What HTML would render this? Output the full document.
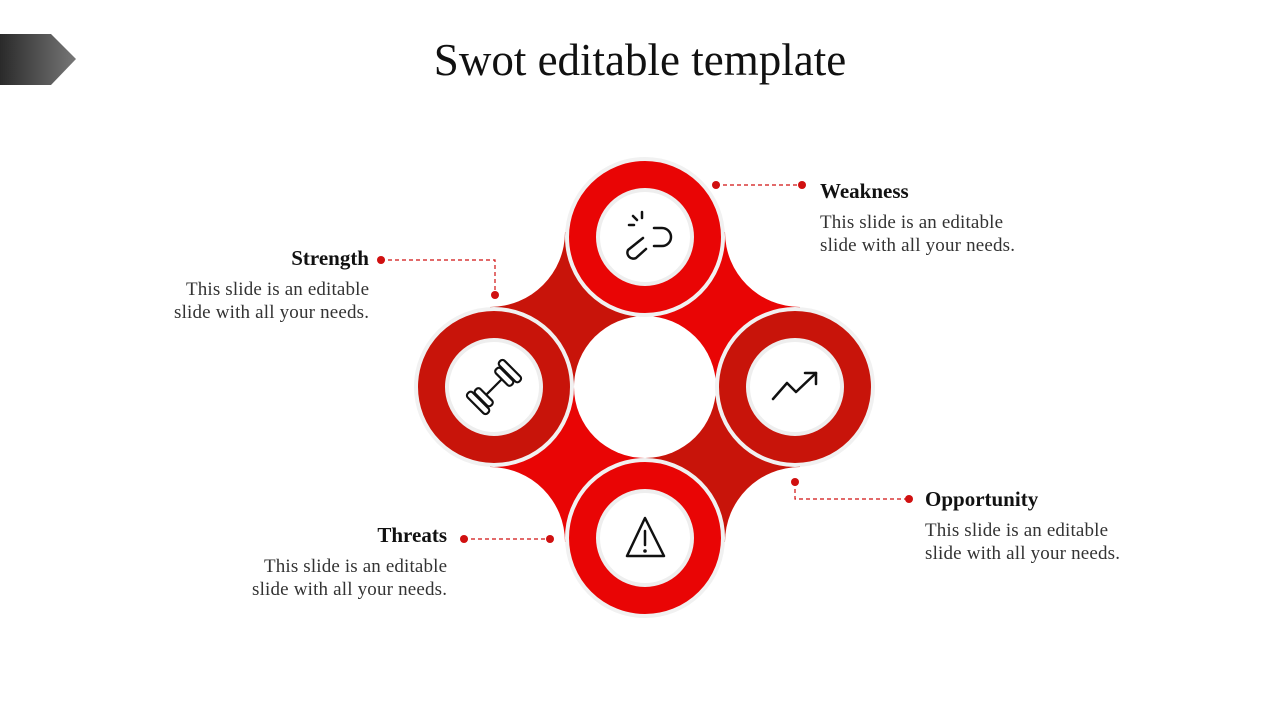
<!DOCTYPE html>
<html><head><meta charset="utf-8"><style>html,body{margin:0;padding:0;background:#fff}svg{display:block}</style></head>
<body>
<svg width="1280" height="720" viewBox="0 0 1280 720" xmlns="http://www.w3.org/2000/svg" font-family="'Liberation Serif', serif">
<defs>
<linearGradient id="g" x1="0" x2="1" y1="0" y2="0"><stop offset="0" stop-color="#2a2a2a"/><stop offset="1" stop-color="#777"/></linearGradient>
</defs>
<polygon points="0,34 51,34 76,59 51,85 0,85" fill="url(#g)"/>
<text x="640" y="75" text-anchor="middle" font-size="45" fill="#111">Swot editable template</text>

<rect x="490" y="232" width="155" height="155" fill="#c8140a"/>
<rect x="645" y="232" width="155" height="155" fill="#e90505"/>
<rect x="490" y="387" width="155" height="155" fill="#e90505"/>
<rect x="645" y="387" width="155" height="155" fill="#c8140a"/>
<circle cx="490" cy="232" r="75" fill="#fff"/>
<circle cx="800" cy="232" r="75" fill="#fff"/>
<circle cx="490" cy="542" r="75" fill="#fff"/>
<circle cx="800" cy="542" r="75" fill="#fff"/>
<circle cx="645" cy="387" r="71" fill="#fff"/>

<g stroke="#f1f1f1" stroke-width="4">
<circle cx="645" cy="237" r="78" fill="#e90505"/>
<circle cx="494" cy="387" r="78" fill="#c8140a"/>
<circle cx="795" cy="387" r="78" fill="#c8140a"/>
<circle cx="645" cy="538" r="78" fill="#e90505"/>
</g>
<g fill="#fff" stroke="#eeeeee" stroke-width="4">
<circle cx="645" cy="237" r="47"/>
<circle cx="494" cy="387" r="47"/>
<circle cx="795" cy="387" r="47"/>
<circle cx="645" cy="538" r="47"/>
</g>

<g fill="none" stroke="#111" stroke-width="2.5" stroke-linecap="round" stroke-linejoin="round">
<path d="M654 228 h8 a9 9 0 0 1 0 18 h-8"/>
<path d="M643 238 l-15 12 a6 6 0 0 0 8 8 l10 -9"/>
<path d="M642 212 v6 M633 216 l4 4 M629 225 h5"/>
<g transform="rotate(-45 494 387)" stroke-width="2.2">
<line x1="484" y1="387" x2="504" y2="387"/>
<rect x="468" y="373" width="7" height="28" rx="3"/>
<rect x="476" y="376" width="7" height="22" rx="3"/>
<rect x="505" y="376" width="7" height="22" rx="3"/>
<rect x="513" y="373" width="7" height="28" rx="3"/>
</g>
<polyline points="773,399 787,383 796,392 816,373"/>
<polyline points="805,373 816,373 816,384"/>
<path d="M645 518 L627 556 H664 Z"/>
<line x1="645" y1="531" x2="645" y2="545"/>
</g>
<circle cx="645" cy="551" r="1.8" fill="#111"/>

<g stroke="#d01010" stroke-width="1.2" stroke-dasharray="4 3" fill="none">
<polyline points="381,260 495,260 495,295"/>
<line x1="716" y1="185" x2="802" y2="185"/>
<polyline points="795,482 795,499 909,499"/>
<line x1="464" y1="539" x2="550" y2="539"/>
</g>
<g fill="#d01010">
<circle cx="381" cy="260" r="4"/><circle cx="495" cy="295" r="4"/>
<circle cx="716" cy="185" r="4"/><circle cx="802" cy="185" r="4"/>
<circle cx="795" cy="482" r="4"/><circle cx="909" cy="499" r="4"/>
<circle cx="464" cy="539" r="4"/><circle cx="550" cy="539" r="4"/>
</g>

<g font-size="19" fill="#111">
<text x="369" y="265" text-anchor="end" font-weight="bold" font-size="21">Strength</text>
<text x="369" y="295" text-anchor="end" fill="#333" textLength="183">This slide is an editable</text>
<text x="369" y="318" text-anchor="end" fill="#333" textLength="195">slide with all your needs.</text>

<text x="820" y="198" font-weight="bold" font-size="21">Weakness</text>
<text x="820" y="228" fill="#333" textLength="183">This slide is an editable</text>
<text x="820" y="251" fill="#333" textLength="195">slide with all your needs.</text>

<text x="925" y="506" font-weight="bold" font-size="21">Opportunity</text>
<text x="925" y="536" fill="#333" textLength="183">This slide is an editable</text>
<text x="925" y="559" fill="#333" textLength="195">slide with all your needs.</text>

<text x="447" y="542" text-anchor="end" font-weight="bold" font-size="21">Threats</text>
<text x="447" y="572" text-anchor="end" fill="#333" textLength="183">This slide is an editable</text>
<text x="447" y="595" text-anchor="end" fill="#333" textLength="195">slide with all your needs.</text>
</g>
</svg>
</body></html>
